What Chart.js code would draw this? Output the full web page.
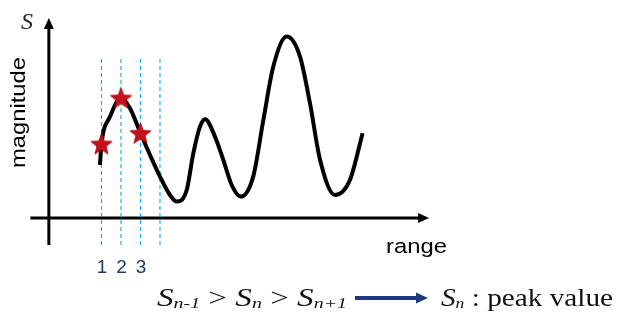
<!DOCTYPE html>
<html>
<head>
<meta charset="utf-8">
<script src="https://cdn.jsdelivr.net/npm/chart.js@4/dist/chart.umd.min.js"></script>
<style>
  html, body { margin: 0; padding: 0; background: #fff; }
  #wrap { width: 619px; height: 327px; }
</style>
</head>
<body>
<div id="wrap"><canvas id="c" width="619" height="327"></canvas></div>
<script>
// Sampled signal: range position vs. magnitude
const rangeX    = [0.92, 1, 1.44, 2, 2.46, 3, 3.49, 4, 4.51, 4.86, 5.37, 5.71, 6.05, 6.31, 6.82, 7.23, 7.7, 8.14, 8.78, 9.3, 9.81, 10.5, 11.18, 11.69, 12.21, 12.97, 13.74, 14.39];
const magnitude = [2.65, 3.7, 5.07, 6.0, 5.49, 4.24, 3.15, 2.07, 1.15, 0.82, 1.4, 3.24, 4.57, 4.94, 4.07, 2.95, 1.6, 1.07, 2.07, 4.9, 7.57, 9.07, 8.07, 5.74, 2.9, 1.15, 1.9, 4.24];

// Range bins compared around the peak (three consecutive samples)
const binX = [1, 2, 3, 4];
const binLabels = ['1', '2', '3'];
const starIdx = [1, 3, 5];   // samples S(n-1), S(n), S(n+1)

// Axis extents (data units)
const xMin = -2.7, xMax = 18, yMin = -1.5, yMax = 10;
const axisX0 = -2.65, axisXTip = 17.8, axisYPos = -1.7, axisYBottom = -1.35, axisYTip = 10;
const guideTop = 8.05, guideBottom = -1.35;

const starData = starIdx.map(i => ({ x: rangeX[i], y: magnitude[i] }));
const curveData = rangeX.map((x, i) => ({ x, y: magnitude[i] }));

// Filled five-point star used as the marker
function makeStar(R, r, fill, stroke) {
  const s = Math.ceil(R * 2 + 4);
  const cv = document.createElement('canvas');
  cv.width = s; cv.height = s;
  const g = cv.getContext('2d');
  g.translate(s / 2, s / 2 + 1);
  g.beginPath();
  for (let k = 0; k < 10; k++) {
    const rad = k % 2 === 0 ? R : r;
    const a = -Math.PI / 2 + k * Math.PI / 5;
    const px = rad * Math.cos(a), py = rad * Math.sin(a);
    k === 0 ? g.moveTo(px, py) : g.lineTo(px, py);
  }
  g.closePath();
  g.fillStyle = fill; g.fill();
  g.lineWidth = 0.8; g.strokeStyle = stroke; g.stroke();
  return cv;
}
const starImg = makeStar(11.2, 4.8, '#C8101A', '#9E0A10');

const guideSets = binX.map(x => ({
  data: [{ x, y: guideBottom }, { x, y: guideTop }],
  borderColor: '#1FB0EC',
  borderWidth: 1.2,
  borderDash: [4, 3],
  pointRadius: 0,
  tension: 0,
  order: 3
}));

// Text with horizontal stretch so it spans a given width
function stretchedRun(ctx, parts, left, baseline, width) {
  let natural = 0;
  parts.forEach(p => { ctx.font = p.font; p.w = ctx.measureText(p.text).width; natural += p.w; });
  const sx = width / natural;
  ctx.save();
  ctx.translate(left, baseline);
  ctx.scale(sx, 1);
  let x = 0;
  parts.forEach(p => { ctx.font = p.font; ctx.fillText(p.text, x, p.dy || 0); x += p.w; });
  ctx.restore();
}

function arrowHead(ctx, tipX, tipY, dirX, dirY, len, half) {
  const nx = -dirY, ny = dirX;
  const bx = tipX - dirX * len, by = tipY - dirY * len;
  ctx.beginPath();
  ctx.moveTo(tipX, tipY);
  ctx.lineTo(bx + nx * half, by + ny * half);
  ctx.lineTo(bx - nx * half, by - ny * half);
  ctx.closePath();
  ctx.fill();
}

const diagramPlugin = {
  id: 'diagram',
  beforeDatasetsDraw(chart) {
    const { ctx, scales: { x, y } } = chart;
    ctx.save();
    ctx.strokeStyle = '#000'; ctx.fillStyle = '#000'; ctx.lineWidth = 3;
    // horizontal axis
    const y0 = y.getPixelForValue(0);
    const xa = x.getPixelForValue(axisX0), xt = x.getPixelForValue(axisXTip);
    ctx.beginPath(); ctx.moveTo(xa, y0); ctx.lineTo(xt - 8, y0); ctx.stroke();
    arrowHead(ctx, xt, y0, 1, 0, 11, 5);
    // vertical axis
    const xv = x.getPixelForValue(axisYPos);
    const yb = y.getPixelForValue(axisYBottom), yt = y.getPixelForValue(axisYTip);
    ctx.beginPath(); ctx.moveTo(xv, yb); ctx.lineTo(xv, yt + 8); ctx.stroke();
    arrowHead(ctx, xv, yt, 0, -1, 11, 5);
    ctx.restore();
  },
  afterDraw(chart) {
    const { ctx, scales: { x, y } } = chart;
    ctx.save();
    // bin numbers
    ctx.fillStyle = '#1F3864';
    ctx.font = '19px "Liberation Sans", Arial, sans-serif';
    ctx.textAlign = 'center';
    ctx.textBaseline = 'alphabetic';
    binLabels.forEach((t, i) => {
      ctx.fillText(t, x.getPixelForValue(binX[i]) + 0.5, 273);
    });
    ctx.textAlign = 'left';

    // axis names
    ctx.fillStyle = '#000';
    stretchedRun(ctx, [{ text: 'range', font: '20.5px "Liberation Sans", Arial, sans-serif' }], 386, 253, 61);
    ctx.save();
    ctx.translate(25, 168);
    ctx.rotate(-Math.PI / 2);
    stretchedRun(ctx, [{ text: 'magnitude', font: '19.5px "Liberation Sans", Arial, sans-serif' }], 0, 0, 111);
    ctx.restore();

    // symbol for the vertical axis
    ctx.fillStyle = '#222';
    ctx.font = 'italic 24px "Liberation Serif", "Times New Roman", serif';
    ctx.fillText('S', 21, 29);

    // peak condition
    ctx.fillStyle = '#111';
    const big = 'italic 25px "Liberation Serif", "Times New Roman", serif';
    const sub = 'italic 15px "Liberation Serif", "Times New Roman", serif';
    const reg = '25px "Liberation Serif", "Times New Roman", serif';
    stretchedRun(ctx, [
      { text: 'S', font: big }, { text: 'n-1', font: sub, dy: 2 },
      { text: ' > ', font: reg },
      { text: 'S', font: big }, { text: 'n', font: sub, dy: 2 },
      { text: ' > ', font: reg },
      { text: 'S', font: big }, { text: 'n+1', font: sub, dy: 2 }
    ], 157, 306, 190);
    stretchedRun(ctx, [
      { text: 'S', font: big }, { text: 'n', font: sub, dy: 2 },
      { text: ' : peak value', font: reg }
    ], 441, 306, 172);

    // implication arrow
    ctx.strokeStyle = '#1F3A7A'; ctx.fillStyle = '#1F3A7A'; ctx.lineWidth = 4;
    ctx.beginPath(); ctx.moveTo(355, 298); ctx.lineTo(418, 298); ctx.stroke();
    arrowHead(ctx, 428, 298, 1, 0, 12, 5.5);
    ctx.restore();
  }
};

new Chart(document.getElementById('c'), {
  type: 'line',
  data: {
    datasets: [
      {
        data: starData,
        showLine: false,
        pointStyle: starImg,
        pointRadius: 11,
        order: 0
      },
      {
        data: curveData,
        borderColor: '#000',
        borderWidth: 4,
        pointRadius: 0,
        cubicInterpolationMode: 'monotone',
        borderCapStyle: 'butt',
        borderJoinStyle: 'round',
        order: 1
      },
      ...guideSets
    ]
  },
  options: {
    responsive: false,
    animation: false,
    devicePixelRatio: 1,
    layout: { padding: { left: 29.35, right: 186, top: 18, bottom: 79 } },
    plugins: { legend: { display: false }, tooltip: { enabled: false } },
    scales: {
      x: { type: 'linear', min: xMin, max: xMax, display: false },
      y: { type: 'linear', min: yMin, max: yMax, display: false }
    },
    elements: { line: { fill: false } }
  },
  plugins: [diagramPlugin]
});
</script>
</body>
</html>
